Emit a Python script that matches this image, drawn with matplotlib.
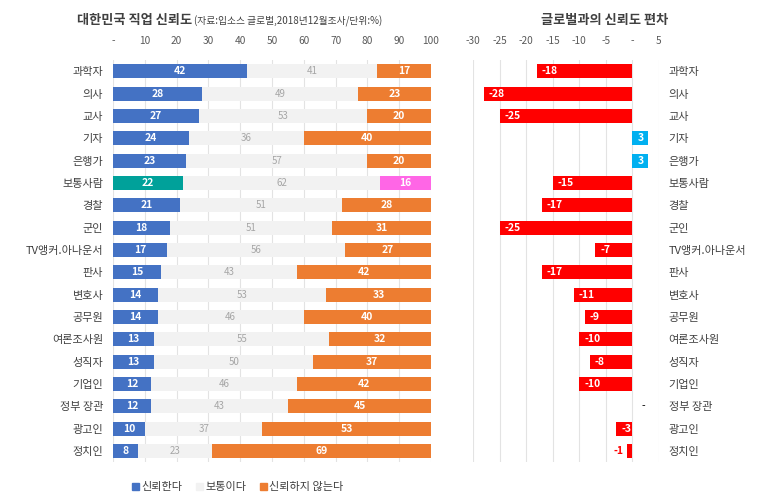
import matplotlib
matplotlib.use("Agg")
import matplotlib.pyplot as plt
from matplotlib.patches import Patch
import numpy as np

plt.rcParams['font.family'] = ['Noto Sans CJK KR', 'DejaVu Sans']

# data
jobs = ['과학자', '의사', '교사', '기자', '은행가', '보통사람', '경찰', '군인',
        'TV앵커.아나운서', '판사', '변호사', '공무원', '여론조사원', '성직자',
        '기업인', '정부 장관', '광고인', '정치인']
trust = [42, 28, 27, 24, 23, 22, 21, 18, 17, 15, 14, 14, 13, 13, 12, 12, 10, 8]
neutral = [41, 49, 53, 36, 57, 62, 51, 51, 56, 43, 53, 46, 55, 50, 46, 43, 37, 23]
distrust = [17, 23, 20, 40, 20, 16, 28, 31, 27, 42, 33, 40, 32, 37, 42, 45, 53, 69]
gap = [-18, -28, -25, 3, 3, -15, -17, -25, -7, -17, -11, -9, -10, -8, -10, 0, -3, -1]

left_ticks = [0, 10, 20, 30, 40, 50, 60, 70, 80, 90, 100]
left_ticklabels = ['-', '10', '20', '30', '40', '50', '60', '70', '80', '90', '100']
right_ticks = [-30, -25, -20, -15, -10, -5, 0, 5]
right_ticklabels = ['-30', '-25', '-20', '-15', '-10', '-5', '-', '5']

# colours
blue = '#4472C4'
grey = '#F2F2F2'
orange = '#ED7D31'
text_col = '#404040'
tick_col = '#595959'
grid_col = '#E3E3E3'

n = len(jobs)
y = np.arange(n)
bar_h = 0.63

fig = plt.figure(figsize=(7.73, 5.01), dpi=100)
ax1 = fig.add_axes([0.1462, 0.0775, 0.4114, 0.8024])
ax2 = fig.add_axes([0.6119, 0.0775, 0.2406, 0.8024])

# ---- left: stacked trust bars
c_trust = [blue] * n
c_dist = [orange] * n
c_trust[jobs.index('보통사람')] = '#00A19A'
c_dist[jobs.index('보통사람')] = '#FF66E6'

trust = np.array(trust)
neutral = np.array(neutral)
distrust = np.array(distrust)

ax1.barh(y, trust, height=bar_h, color=c_trust, zorder=2)
ax1.barh(y, neutral, left=trust, height=bar_h, color=grey, zorder=2)
ax1.barh(y, distrust, left=trust + neutral, height=bar_h, color=c_dist, zorder=2)

for i in range(n):
    ax1.text(trust[i] / 2, y[i], str(trust[i]), ha='center', va='center',
             color='white', fontsize=7.5, fontweight='bold', zorder=3)
    ax1.text(trust[i] + neutral[i] / 2, y[i], str(neutral[i]), ha='center',
             va='center', color='#A6A6A6', fontsize=7, zorder=3)
    ax1.text(trust[i] + neutral[i] + distrust[i] / 2, y[i], str(distrust[i]),
             ha='center', va='center', color='white', fontsize=7.5,
             fontweight='bold', zorder=3)

ax1.set_xlim(0, 100)
ax1.set_ylim(n - 0.5, -0.5)
ax1.set_xticks(left_ticks)
ax1.set_xticklabels(left_ticklabels)
ax1.xaxis.tick_top()
ax1.set_yticks(y)
ax1.set_yticklabels(jobs)
ax1.tick_params(axis='x', length=0, pad=10, labelsize=7.3, labelcolor=tick_col)
ax1.tick_params(axis='y', length=0, pad=7, labelsize=8, labelcolor=text_col)
ax1.grid(axis='x', color=grid_col, linewidth=0.8, zorder=0)
for s in ax1.spines.values():
    s.set_visible(False)

# ---- right: gap to global
gap = np.array(gap)
gcol = ['#00B0F0' if v > 0 else '#FF0000' for v in gap]
ax2.barh(y, gap, height=bar_h, color=gcol, zorder=2)

for i, v in enumerate(gap):
    if v == 0:
        ax2.annotate('-', (0, y[i]), xytext=(8, 0), textcoords='offset points',
                     ha='center', va='center', fontsize=7.5, color='black')
    elif v > 0:
        ax2.text(v / 2, y[i], str(v), ha='center', va='center', color='white',
                 fontsize=7.5, fontweight='bold', zorder=3)
    elif v > -3:
        ax2.annotate(str(v), (v, y[i]), xytext=(-2.5, 0), textcoords='offset points',
                     ha='right', va='center', fontsize=7.5, color='#FF0000',
                     fontweight='bold')
    else:
        ax2.annotate(str(v), (v, y[i]), xytext=(3.5, 0), textcoords='offset points',
                     ha='left', va='center', fontsize=7.5, color='white',
                     fontweight='bold', zorder=3)

ax2.set_xlim(-30, 5)
ax2.set_ylim(n - 0.5, -0.5)
ax2.set_xticks(right_ticks)
ax2.set_xticklabels(right_ticklabels)
ax2.xaxis.tick_top()
ax2.yaxis.tick_right()
ax2.set_yticks(y)
ax2.set_yticklabels(jobs)
ax2.tick_params(axis='x', length=0, pad=10, labelsize=7.3, labelcolor=tick_col)
ax2.tick_params(axis='y', length=0, pad=7, labelsize=8, labelcolor=text_col)
ax2.grid(axis='x', color=grid_col, linewidth=0.8, zorder=0)
for s in ax2.spines.values():
    s.set_visible(False)

# ---- titles
t1 = fig.text(77 / 773, 1 - 27 / 501, '대한민국 직업 신뢰도', fontsize=9.5,
              fontweight='bold', color=text_col, va='bottom')
ax1.annotate('(자료:입소스 글로벌,2018년12월조사/단위:%)', xy=(1, 0),
             xycoords=t1, xytext=(1, 0), textcoords='offset points',
             fontsize=7, color=text_col, va='bottom', ha='left',
             annotation_clip=False)
fig.text(605 / 773, 1 - 20 / 501, '글로벌과의 신뢰도 편차', fontsize=9.5,
         fontweight='bold', color=text_col, ha='center', va='center')

# ---- legend
handles = [Patch(color=blue, label='신뢰한다'),
           Patch(color=grey, label='보통이다'),
           Patch(color=orange, label='신뢰하지 않는다')]
fig.legend(handles=handles, loc='center', bbox_to_anchor=(238 / 773, 1 - 487 / 501),
           ncol=3, frameon=False, fontsize=8, handlelength=0.6, handleheight=0.6,
           handletextpad=0.25, columnspacing=1.2, labelcolor=text_col)

fig.savefig('out.png', dpi=100)
